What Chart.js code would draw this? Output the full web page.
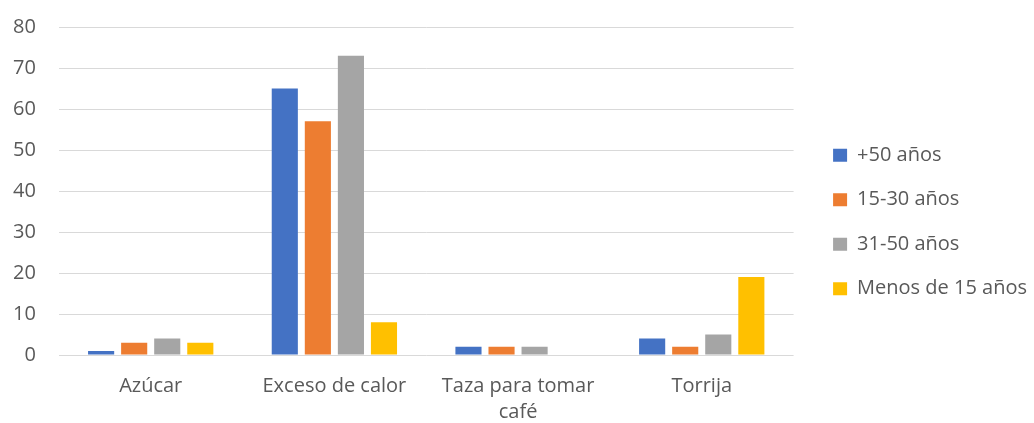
<!DOCTYPE html>
<html>
<head>
<meta charset="utf-8">
<script src="https://cdn.jsdelivr.net/npm/chart.js@4/dist/chart.umd.min.js"></script>
<style>
  html, body { margin: 0; padding: 0; background: #ffffff; }
  #wrap { width: 1034px; height: 423px; position: relative; }
</style>
</head>
<body>
<div id="wrap"><canvas id="chart"></canvas></div>
<script>
// Data
const categories = ['Azúcar', 'Exceso de calor', ['Taza para tomar', 'café'], 'Torrija'];
const seriesNames = ['+50 años', '15-30 años', '31-50 años', 'Menos de 15 años'];
const mas50 = [1, 65, 2, 4];
const de15a30 = [3, 57, 2, 2];
const de31a50 = [4, 73, 2, 5];
const menos15 = [3, 8, 0, 19];
const yTicks = { min: 0, max: 80, step: 10 };

const colors = ['#4472C4', '#ED7D31', '#A5A5A5', '#FFC000'];
const textColor = '#595959';
const font = 'Open Sans';

// legend: widen its box and nudge the drawing so it sits like the original
const LEGEND_EXTRA = 12;
const LEGEND_DX = 15;
const LEGEND_DY = -13;
const legendShift = {
    id: 'legendShift',
    afterInit(chart) {
        const lg = chart.legend;
        const fit = lg.fit;
        const draw = lg.draw;
        lg.fit = function () { fit.call(this); this.width += LEGEND_EXTRA; };
        lg.draw = function () {
            const c = this.ctx;
            c.save();
            c.translate(LEGEND_DX, LEGEND_DY);
            draw.call(this);
            c.restore();
        };
    }
};

const allSeries = [mas50, de15a30, de31a50, menos15];

new Chart(document.getElementById('chart'), {
    type: 'bar',
    data: {
        labels: categories,
        datasets: allSeries.map((vals, i) => ({
            label: seriesNames[i],
            data: vals,
            backgroundColor: colors[i],
            borderWidth: 0,
            categoryPercentage: 0.72,
            barPercentage: 0.79
        }))
    },
    options: {
        responsive: true,
        maintainAspectRatio: false,
        animation: false,
        devicePixelRatio: 1,
        layout: { padding: { left: -10, top: 27, right: 0, bottom: -20 } },
        scales: {
            x: {
                grid: { display: false, drawTicks: false },
                border: { display: false },
                afterFit(scale) { scale.paddingLeft = 0; scale.paddingRight = 0; },
                ticks: {
                    color: textColor,
                    padding: 18,
                    maxRotation: 0,
                    autoSkip: false,
                    font: { family: font, size: 20, lineHeight: 1.3 }
                }
            },
            y: {
                min: yTicks.min,
                max: yTicks.max,
                border: { display: false },
                grid: { color: '#d9d9d9', lineWidth: 1, drawTicks: false },
                afterFit(scale) { scale.paddingTop = 0; scale.paddingBottom = 0; },
                ticks: {
                    stepSize: yTicks.step,
                    color: textColor,
                    padding: 23,
                    font: { family: font, size: 20 }
                }
            }
        },
        plugins: {
            legend: {
                position: 'right',
                labels: {
                    boxWidth: 14,
                    boxHeight: 13,
                    padding: 24.5,
                    color: textColor,
                    font: { family: font, size: 20 }
                }
            },
            tooltip: { enabled: false }
        }
    },
    plugins: [legendShift]
});
</script>
</body>
</html>
